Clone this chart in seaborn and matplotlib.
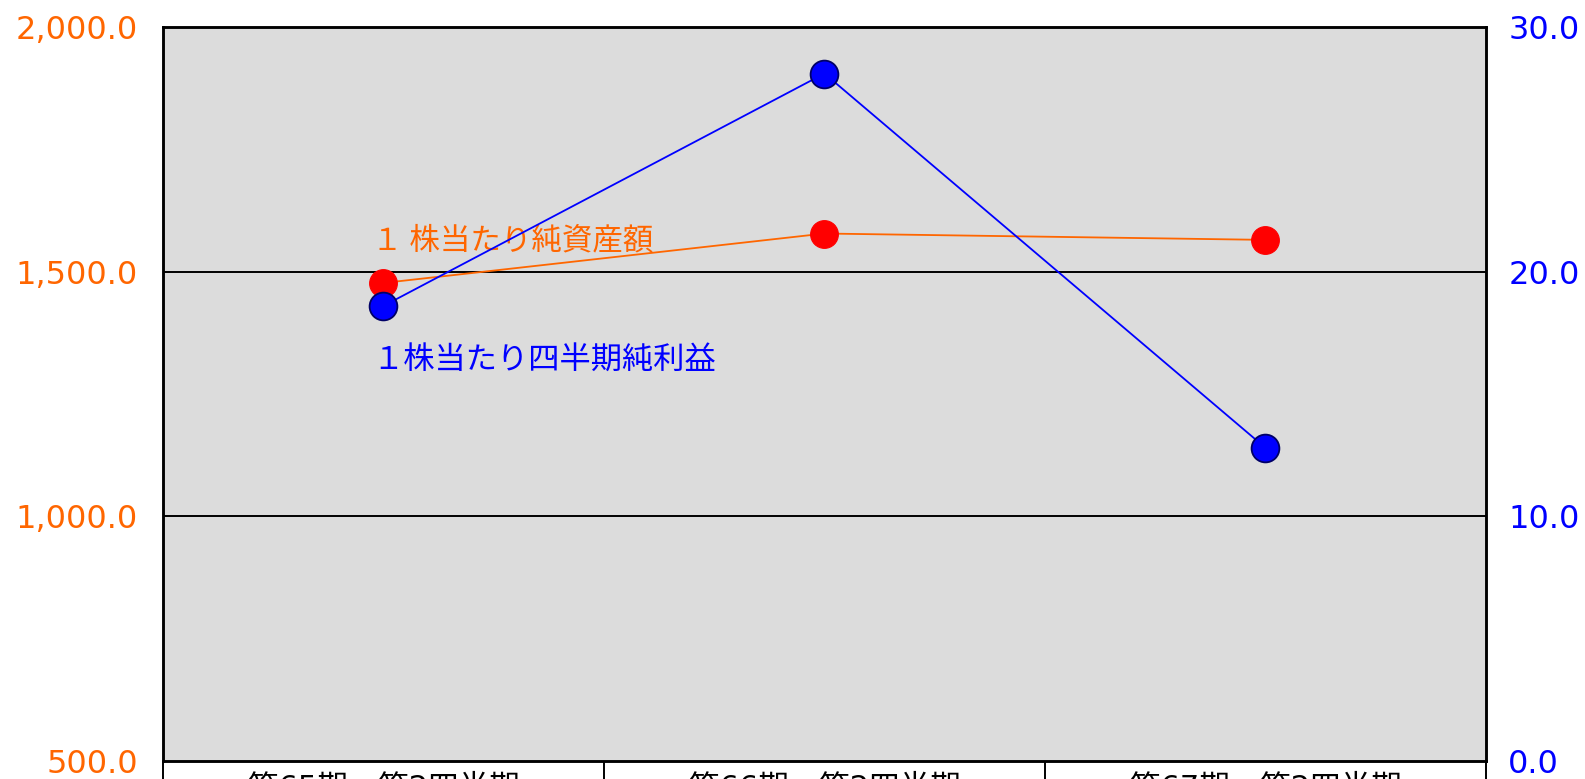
import matplotlib
matplotlib.use("Agg")
import matplotlib.pyplot as plt
import seaborn as sns
import pandas as pd

# Quarterly per-share figures
periods = ["第65期　第2四半期", "第66期　第2四半期", "第67期　第2四半期"]
net_assets_per_share = [1477.0, 1578.0, 1565.0]   # 1株当たり純資産額 (left axis)
eps_quarter = [18.6, 28.1, 12.8]                  # 1株当たり四半期純利益 (right axis)

left_ticks = [500.0, 1000.0, 1500.0, 2000.0]
right_ticks = [0.0, 10.0, 20.0, 30.0]

ORANGE = "#FF6600"
BLUE = "#0000FF"

sns.set_theme(style="white")
plt.rcParams["font.family"] = ["DejaVu Sans", "Noto Sans CJK JP"]

df = pd.DataFrame({
    "period": periods,
    "nav": net_assets_per_share,
    "eps": eps_quarter,
})

fig = plt.figure(figsize=(15.85, 7.79), dpi=100)
ax = fig.add_axes([0.1028, 0.0231, 0.8347, 0.9422])
ax.set_facecolor("#DCDCDC")

sns.lineplot(data=df, x="period", y="nav", ax=ax, color=ORANGE, linewidth=1.3,
             marker="o", markersize=20, markerfacecolor="#FF0000",
             markeredgecolor="#FF0000", zorder=4, sort=False)

ax2 = ax.twinx()
sns.lineplot(data=df, x="period", y="eps", ax=ax2, color=BLUE, linewidth=1.3,
             marker="o", markersize=20, markerfacecolor=BLUE,
             markeredgecolor="#000066", markeredgewidth=1.3, zorder=4, sort=False)

ax.set_xlim(-0.5, 2.5)
ax.set_ylim(500, 2000)
ax2.set_ylim(0, 30)

ax.set_yticks(left_ticks)
ax.set_yticklabels([f"{v:,.1f}" for v in left_ticks], color=ORANGE, fontsize=23)
ax2.set_yticks(right_ticks)
ax2.set_yticklabels([f"{v:.1f}" for v in right_ticks], color=BLUE, fontsize=23)
ax.tick_params(axis="y", length=0, pad=18)
ax2.tick_params(axis="y", length=0, pad=16)

# horizontal grid on the left scale
for v in left_ticks[1:-1]:
    ax.axhline(v, color="black", linewidth=1.4, zorder=1)

# category labels with long separator ticks between them
ax.set_xticks(range(len(periods)))
ax.set_xticklabels(periods, fontsize=22, color="black")
ax.tick_params(axis="x", which="major", length=0, pad=9)
ax.set_xticks([-0.5, 0.5, 1.5, 2.5], minor=True)
ax.tick_params(axis="x", which="minor", length=30, width=1.4, color="black",
               direction="out", bottom=True)
ax.set_xlabel("")
ax.set_ylabel("")
ax2.set_ylabel("")

for a in (ax, ax2):
    for s in a.spines.values():
        s.set_color("black")
        s.set_linewidth(1.8)

ax.text(-0.025, 1562, "１ 株当たり純資産額", color=ORANGE, fontsize=22,
        family=["Noto Sans CJK JP", "DejaVu Sans"], ha="left", va="center", zorder=2)
ax.text(-0.025, 1320, "１株当たり四半期純利益", color=BLUE, fontsize=22.5,
        family=["Noto Sans CJK JP", "DejaVu Sans"], ha="left", va="center", zorder=2)

fig.savefig("out.png", dpi=100)
